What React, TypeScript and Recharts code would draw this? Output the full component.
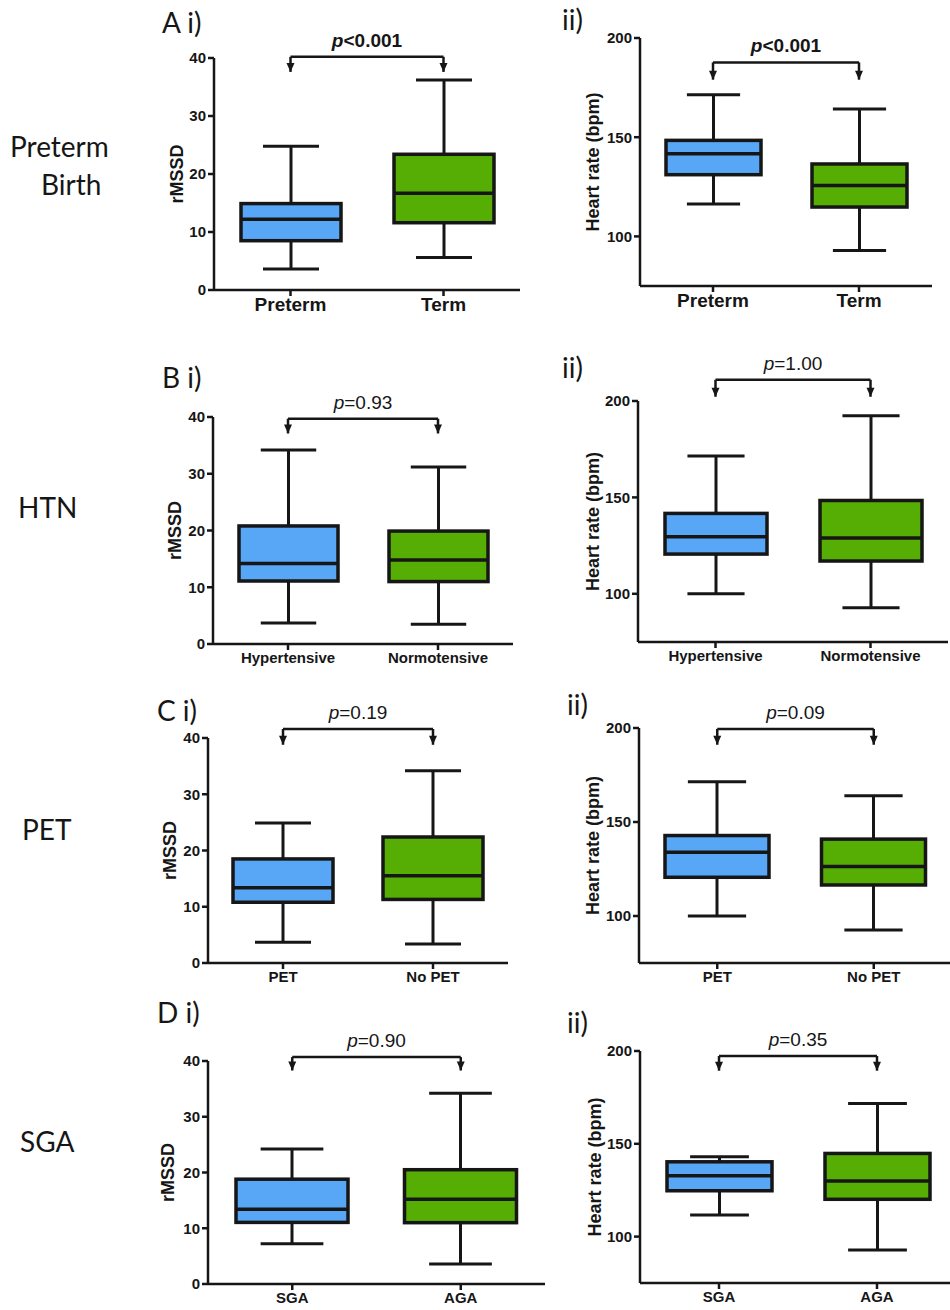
import React from 'react';
import {
  ComposedChart, Bar, XAxis, YAxis, Cell, ReferenceLine, ReferenceDot,
} from 'recharts';

// ── data: [min, q1, median, q3, max] per group ──────────────────
const catsA = ['Preterm', 'Term'];
const catsB = ['Hypertensive', 'Normotensive'];
const catsC = ['PET', 'No PET'];
const catsD = ['SGA', 'AGA'];

const rmssdA = [[3.6, 8.5, 12.2, 14.9, 24.8], [5.6, 11.6, 16.7, 23.4, 36.2]];
const hrA = [[116.3, 131.1, 141.7, 148.4, 171.4], [92.9, 114.8, 125.6, 136.5, 164.2]];
const rmssdB = [[3.7, 11.1, 14.2, 20.8, 34.2], [3.5, 11.0, 14.8, 19.9, 31.2]];
const hrB = [[100, 120.6, 129.6, 141.7, 171.5], [92.7, 117, 128.9, 148.4, 192.3]];
const rmssdC = [[3.7, 10.8, 13.4, 18.5, 24.9], [3.4, 11.3, 15.5, 22.4, 34.2]];
const hrC = [[100, 120.6, 133.9, 142.8, 171.4], [92.5, 116.5, 126.3, 140.9, 163.9]];
const rmssdD = [[7.2, 11.05, 13.4, 18.8, 24.2], [3.6, 11.0, 15.2, 20.5, 34.2]];
const hrD = [[111.7, 124.7, 132.8, 140.3, 143], [92.8, 120.1, 129.9, 144.8, 171.7]];

const rmssdTicks = [0, 10, 20, 30, 40];
const hrTicks = [100, 150, 200];

// p-values and bracket level / arrow tip (data units)
const pTexts = ['<0.001', '<0.001', '=0.93', '=1.00', '=0.19', '=0.09', '=0.90', '=0.35'];
const bracketY = [40.2, 187.7, 39.7, 211, 41.6, 199.5, 40.7, 197.3];
const arrowTipY = [37.6, 179, 37.1, 202.2, 38.8, 191.1, 38.3, 189.4];

const BLUE = '#58a6f6';
const GREEN = '#56ae04';
const INK = '#161616';
const FONT = '"Liberation Sans", Arial, sans-serif';

type Row = { name: string; min: number; q1: number; median: number; q3: number; max: number; range: [number, number] };

function toRows(cats: string[], vals: number[][]): Row[] {
  return cats.map((name, i) => {
    const [min, q1, median, q3, max] = vals[i];
    return { name, min, q1, median, q3, max, range: [min, max] };
  });
}

// ── box + whisker shape drawn from the range bar ────────────────
function BoxShape(props: any) {
  const { x, y, width, height, payload, fill } = props;
  const top = Math.min(y, y + height);
  const span = Math.abs(height);
  const lo = payload.min, hi = payload.max;
  const py = (v: number) => top + (span * (hi - v)) / (hi - lo);
  const cx = x + width / 2;
  const cap = width * 0.56;
  return (
    <g stroke={INK} strokeWidth={3}>
      <line x1={cx} x2={cx} y1={py(hi)} y2={py(payload.q3)} />
      <line x1={cx} x2={cx} y1={py(payload.q1)} y2={py(lo)} />
      <line x1={cx - cap / 2} x2={cx + cap / 2} y1={py(hi)} y2={py(hi)} />
      <line x1={cx - cap / 2} x2={cx + cap / 2} y1={py(lo)} y2={py(lo)} />
      <rect x={x} y={py(payload.q3)} width={width} height={py(payload.q1) - py(payload.q3)} fill={fill} strokeWidth={3.5} />
      <line x1={x} x2={x + width} y1={py(payload.median)} y2={py(payload.median)} strokeWidth={3.5} />
    </g>
  );
}

function ArrowHead(props: any) {
  const { cx, cy } = props;
  return <path d={`M${cx - 4},${cy - 9} L${cx + 4},${cy - 9} L${cx},${cy} Z`} fill={INK} />;
}

// ── panel layout (pixels) ───────────────────────────────────────
interface Panel {
  rows: Row[]; hr: boolean; idx: number;
  axisX: number; xEnd: number; yTop: number; yBottom: number;
  boxW: number; labelX: number; bigTicks: boolean;
}

const panels: Panel[] = [
  { rows: toRows(catsA, rmssdA), hr: false, idx: 0, axisX: 214, xEnd: 520, yTop: 58, yBottom: 290, boxW: 100, labelX: 177, bigTicks: true },
  { rows: toRows(catsA, hrA), hr: true, idx: 1, axisX: 640, xEnd: 932, yTop: 38, yBottom: 286, boxW: 95, labelX: 593, bigTicks: true },
  { rows: toRows(catsB, rmssdB), hr: false, idx: 2, axisX: 213, xEnd: 513, yTop: 417, yBottom: 644, boxW: 99, labelX: 175, bigTicks: false },
  { rows: toRows(catsB, hrB), hr: true, idx: 3, axisX: 638, xEnd: 948, yTop: 401, yBottom: 642, boxW: 102, labelX: 593, bigTicks: false },
  { rows: toRows(catsC, rmssdC), hr: false, idx: 4, axisX: 208, xEnd: 508, yTop: 738, yBottom: 963, boxW: 100, labelX: 170, bigTicks: false },
  { rows: toRows(catsC, hrC), hr: true, idx: 5, axisX: 639, xEnd: 952, yTop: 728, yBottom: 963, boxW: 104, labelX: 593, bigTicks: false },
  { rows: toRows(catsD, rmssdD), hr: false, idx: 6, axisX: 208, xEnd: 545, yTop: 1061, yBottom: 1284, boxW: 112, labelX: 168, bigTicks: false },
  { rows: toRows(catsD, hrD), hr: true, idx: 7, axisX: 640, xEnd: 956, yTop: 1051, yBottom: 1283, boxW: 105, labelX: 595, bigTicks: false },
];

const Y_W = 60, M_TOP = 70, X_H = 40, M_RIGHT = 5;

function BoxPanel({ p }: { p: Panel }) {
  const width = p.xEnd - p.axisX + Y_W + M_RIGHT;
  const height = p.yBottom - p.yTop + M_TOP + X_H;
  const bold = p.idx < 2;
  const [c0, c1] = [p.rows[0].name, p.rows[1].name];
  const by = bracketY[p.idx], ty = arrowTipY[p.idx];
  const pLabel = ({ viewBox }: any) => (
    <text x={viewBox.x + viewBox.width / 2} y={viewBox.y - 10} textAnchor="middle"
      fontSize={19} fontFamily={FONT} fontWeight={bold ? 700 : 400} fill={INK}>
      <tspan fontStyle="italic">p</tspan>{pTexts[p.idx]}
    </text>
  );
  return (
    <div style={{ position: 'absolute', left: p.axisX - Y_W, top: p.yTop - M_TOP }}>
      <ComposedChart width={width} height={height} data={p.rows}
        margin={{ top: M_TOP, right: M_RIGHT, left: 0, bottom: 0 }}>
        <XAxis dataKey="name" type="category" height={X_H} interval={0}
          axisLine={{ stroke: INK, strokeWidth: 2.5 }} tickLine={{ stroke: INK, strokeWidth: 2.5 }}
          tick={{ fill: INK, fontSize: p.bigTicks ? 19 : 15, fontWeight: 700, fontFamily: FONT }} />
        <YAxis type="number" width={Y_W}
          domain={p.hr ? [75, 200] : [0, 40]} ticks={p.hr ? hrTicks : rmssdTicks} allowDataOverflow
          axisLine={{ stroke: INK, strokeWidth: 2.5 }} tickLine={{ stroke: INK, strokeWidth: 2.5 }}
          tick={{ fill: INK, fontSize: 15, fontWeight: 700, fontFamily: FONT }}
          label={{
            value: p.hr ? 'Heart rate (bpm)' : 'rMSSD', angle: -90, position: 'insideLeft',
            offset: p.labelX - (p.axisX - Y_W),
            style: { textAnchor: 'middle', fill: INK, fontSize: 18, fontWeight: 700, fontFamily: FONT },
          }} />
        <Bar dataKey="range" barSize={p.boxW} shape={BoxShape} isAnimationActive={false}>
          {p.rows.map((r, i) => <Cell key={r.name} fill={i === 0 ? BLUE : GREEN} />)}
        </Bar>
        <ReferenceLine segment={[{ x: c0, y: by }, { x: c1, y: by }]} stroke={INK} strokeWidth={2.5}
          ifOverflow="visible" label={pLabel} />
        <ReferenceLine segment={[{ x: c0, y: by }, { x: c0, y: ty }]} stroke={INK} strokeWidth={2.5} ifOverflow="visible" />
        <ReferenceLine segment={[{ x: c1, y: by }, { x: c1, y: ty }]} stroke={INK} strokeWidth={2.5} ifOverflow="visible" />
        <ReferenceDot x={c0} y={ty} r={4} ifOverflow="visible" shape={ArrowHead} />
        <ReferenceDot x={c1} y={ty} r={4} ifOverflow="visible" shape={ArrowHead} />
      </ComposedChart>
    </div>
  );
}

// ── panel and row titles ────────────────────────────────────────
const panelTitles = [
  { t: 'A i)', x: 162, y: 33 }, { t: 'ii)', x: 562, y: 30 },
  { t: 'B i)', x: 162, y: 388 }, { t: 'ii)', x: 562, y: 378 },
  { t: 'C i)', x: 157, y: 721 }, { t: 'ii)', x: 567, y: 715 },
  { t: 'D i)', x: 157, y: 1023 }, { t: 'ii)', x: 567, y: 1033 },
];
const rowTitles = [
  { t: 'Preterm', x: 10, y: 157 }, { t: 'Birth', x: 41, y: 195 },
  { t: 'HTN', x: 18, y: 518 }, { t: 'PET', x: 22, y: 840 }, { t: 'SGA', x: 20, y: 1152 },
];

export default function App() {
  return (
    <div style={{ position: 'absolute', left: 0, top: 0, width: 950, height: 1310, background: '#fff', overflow: 'hidden' }}>
      {panels.map(p => <BoxPanel key={p.idx} p={p} />)}
      <svg width={950} height={1310} style={{ position: 'absolute', left: 0, top: 0, pointerEvents: 'none' }}>
        {panelTitles.map((d, i) => (
          <text key={i} x={d.x} y={d.y} fontSize={28} fontFamily="Lato, sans-serif" fill={INK}>{d.t}</text>
        ))}
        {rowTitles.map((d, i) => (
          <text key={i} x={d.x} y={d.y} fontSize={28} fontFamily="Lato, sans-serif" fill={INK}>{d.t}</text>
        ))}
      </svg>
    </div>
  );
}
